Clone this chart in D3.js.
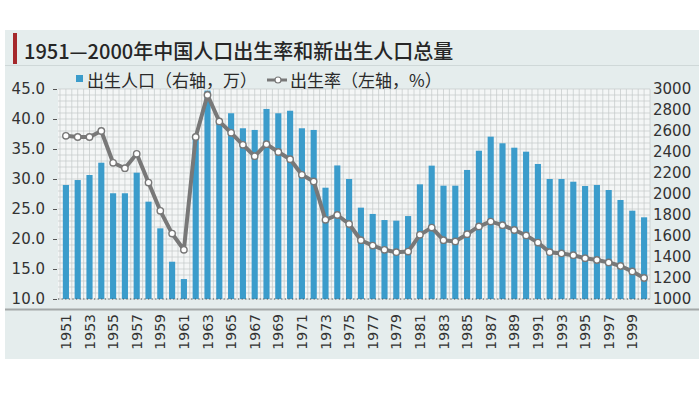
<!DOCTYPE html>
<html>
<head>
<meta charset="utf-8">
<script src="https://cdn.jsdelivr.net/npm/d3@7"></script>
<style>
  body { margin: 0; background: #fff; }
  svg { display: block; }
</style>
</head>
<body>
<div id="chart"></div>
<script>
// categories
const years = d3.range(1951, 2001);

// 出生人口 (右轴, 万)
const births = [
  2086, 2133, 2181, 2298, 2007, 2007, 2203, 1927, 1673, 1355,
  1190, 2562, 2985, 2686, 2769, 2626, 2610, 2810, 2769, 2793,
  2626, 2610, 2060, 2272, 2143, 1870, 1810, 1752, 1746, 1790,
  2092, 2270, 2079, 2079, 2229, 2412, 2546, 2483, 2441, 2403,
  2286, 2143, 2143, 2117, 2076, 2086, 2038, 1943, 1841, 1778
];

// 出生率 (左轴, %)
const birthRate = [
  37.2, 37.0, 37.0, 38.0, 32.7, 31.8, 34.2, 29.4, 24.7, 20.9,
  18.2, 37.0, 44.0, 39.6, 37.7, 35.7, 33.8, 35.8, 34.5, 33.3,
  30.7, 29.6, 23.2, 24.0, 22.5, 19.8, 18.9, 18.2, 17.8, 17.9,
  20.7, 21.9, 19.8, 19.6, 20.8, 22.1, 22.9, 22.3, 21.5, 20.6,
  19.4, 17.8, 17.6, 17.3, 16.8, 16.5, 16.1, 15.5, 14.6, 13.5
];

const leftTicks = [10, 15, 20, 25, 30, 35, 40, 45];
const rightTicks = [1000, 1200, 1400, 1600, 1800, 2000, 2200, 2400, 2600, 2800, 3000];
const xTickYears = years.filter(y => y % 2 === 1);

const titleText = "1951—2000年中国人口出生率和新出生人口总量";
const legendBars = "出生人口（右轴，万）";
const legendLine = "出生率（左轴，%）";

const W = 699, H = 393;
const numFont = "'DejaVu Sans', sans-serif";
const cjkFont = "'Noto Sans CJK SC', 'Liberation Sans', sans-serif";

const svg = d3.select("#chart").append("svg")
  .attr("width", W)
  .attr("height", H);

// panel background
svg.append("rect")
  .attr("x", 5).attr("y", 30)
  .attr("width", W - 5).attr("height", 329)
  .attr("fill", "#e5eded");

// title
svg.append("rect")
  .attr("x", 13).attr("y", 33)
  .attr("width", 4).attr("height", 31)
  .attr("fill", "#a5282b");
svg.append("line")
  .attr("x1", 5).attr("x2", W)
  .attr("y1", 65.5).attr("y2", 65.5)
  .attr("stroke", "#cfd8d8").attr("stroke-width", 1);
svg.append("text")
  .attr("x", 24).attr("y", 58.5)
  .attr("font-family", cjkFont)
  .attr("font-size", 20)
  .attr("font-weight", 500)
  .attr("fill", "#262626")
  .text(titleText);

const x = d3.scaleBand()
  .domain(years)
  .range([60, 650])
  .paddingInner(0.48)
  .paddingOuter(0.24);

const yL = d3.scaleLinear().domain([10, 45]).range([299, 89]);
const yR = d3.scaleLinear().domain([1000, 3000]).range([299, 89]);

const plot = svg.append("g");

// plot background + dense grid
plot.append("rect")
  .attr("x", 58).attr("y", yL(45))
  .attr("width", 592).attr("height", yL(10) - yL(45))
  .attr("fill", "#f4f6f6");

plot.append("g").selectAll("line")
  .data(d3.range(10, 45.01, 1))
  .join("line")
  .attr("x1", 58).attr("x2", 650)
  .attr("y1", d => yL(d)).attr("y2", d => yL(d))
  .attr("stroke", "#c3c8c8").attr("stroke-width", 0.7);

const halfStep = x.step() / 2;
plot.append("g").selectAll("line")
  .data(d3.range(0, years.length * 2 + 1))
  .join("line")
  .attr("x1", i => 60 + i * halfStep).attr("x2", i => 60 + i * halfStep)
  .attr("y1", yL(45)).attr("y2", yL(10))
  .attr("stroke", "#c3c8c8").attr("stroke-width", 0.7);

// bars
plot.append("g").selectAll("rect")
  .data(years)
  .join("rect")
  .attr("x", d => x(d))
  .attr("width", x.bandwidth())
  .attr("y", (d, i) => yR(births[i]))
  .attr("height", (d, i) => yR(1000) - yR(births[i]))
  .attr("fill", "#3b9ccb");

// bottom dotted baseline
plot.append("line")
  .attr("x1", 58).attr("x2", 650)
  .attr("y1", yL(10)).attr("y2", yL(10))
  .attr("stroke", "#555").attr("stroke-width", 1.2)
  .attr("stroke-dasharray", "1.2,2.4");

// birth rate line
const cx = d => x(d) + x.bandwidth() / 2;
const line = d3.line()
  .x(d => cx(d))
  .y((d, i) => yL(birthRate[i]));

plot.append("path")
  .datum(years)
  .attr("d", line)
  .attr("fill", "none")
  .attr("stroke", "#787878")
  .attr("stroke-width", 4)
  .attr("stroke-linejoin", "round");

plot.append("g").selectAll("circle")
  .data(years)
  .join("circle")
  .attr("cx", d => cx(d))
  .attr("cy", (d, i) => yL(birthRate[i]))
  .attr("r", 3.2)
  .attr("fill", "#fff")
  .attr("stroke", "#787878")
  .attr("stroke-width", 1.4);

// left axis
const gl = svg.append("g")
  .attr("transform", "translate(57,0)")
  .call(d3.axisLeft(yL).tickValues(leftTicks).tickFormat(d3.format(".1f")).tickSize(4).tickPadding(8));
gl.select(".domain").remove();
gl.selectAll(".tick line").attr("stroke", "#555");
gl.selectAll(".tick text")
  .attr("font-family", numFont).attr("font-size", 15).attr("fill", "#333");

// right axis
const gr = svg.append("g")
  .attr("transform", "translate(650,0)")
  .call(d3.axisRight(yR).tickValues(rightTicks).tickFormat(d3.format("d")).tickSize(0).tickPadding(3));
gr.select(".domain").remove();
gr.selectAll(".tick text")
  .attr("font-family", numFont).attr("font-size", 15).attr("fill", "#333");

// separator under plot
svg.append("line")
  .attr("x1", 5).attr("x2", W)
  .attr("y1", 309.5).attr("y2", 309.5)
  .attr("stroke", "#a3a8a8").attr("stroke-width", 2);

// x labels (rotated)
svg.append("g").selectAll("text")
  .data(xTickYears)
  .join("text")
  .attr("transform", d => `translate(${cx(d)},314) rotate(-90)`)
  .attr("text-anchor", "end")
  .attr("dy", "0.36em")
  .attr("font-family", numFont)
  .attr("font-size", 14)
  .attr("fill", "#333")
  .text(d => d);

// legend
const lg = svg.append("g");
lg.append("rect")
  .attr("x", 76).attr("y", 75)
  .attr("width", 7).attr("height", 7)
  .attr("fill", "#3b9ccb");
lg.append("text")
  .attr("x", 87).attr("y", 81)
  .attr("dy", "0.36em")
  .attr("font-family", cjkFont).attr("font-size", 17).attr("fill", "#2a2a2a")
  .text(legendBars);
lg.append("line")
  .attr("x1", 267).attr("x2", 287)
  .attr("y1", 80).attr("y2", 80)
  .attr("stroke", "#787878").attr("stroke-width", 3);
lg.append("circle")
  .attr("cx", 278).attr("cy", 80).attr("r", 3)
  .attr("fill", "#fff").attr("stroke", "#787878").attr("stroke-width", 1.2);
lg.append("text")
  .attr("x", 290).attr("y", 81)
  .attr("dy", "0.36em")
  .attr("font-family", cjkFont).attr("font-size", 17).attr("fill", "#2a2a2a")
  .text(legendLine);
</script>
</body>
</html>
